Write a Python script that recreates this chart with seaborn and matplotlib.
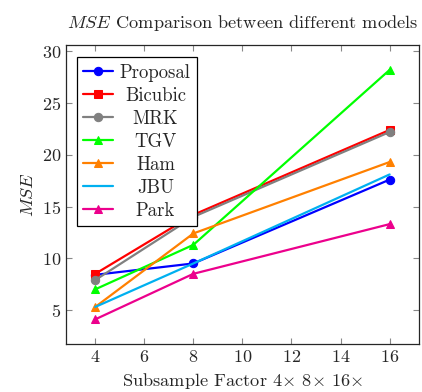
import matplotlib
matplotlib.use("Agg")
import matplotlib.pyplot as plt
import seaborn as sns
import pandas as pd

factors = [4, 8, 16]
proposal = [8.4, 9.5, 17.6]
bicubic = [8.5, 14.2, 22.4]
mrk = [7.9, 14.0, 22.2]
tgv = [7.0, 11.3, 28.2]
ham = [5.3, 12.4, 19.3]
jbu = [5.3, 9.5, 18.1]
park = [4.1, 8.5, 13.3]

names = ["Proposal", "Bicubic", "MRK", "TGV", "Ham", "JBU", "Park"]
values = [proposal, bicubic, mrk, tgv, ham, jbu, park]
colors = ["#0000ff", "#ff0000", "#808080", "#00ff00", "#ff8000", "#00b0f0", "#ec008c"]
markers = ["o", "s", "o", "^", "^", None, "^"]

sns.set_style("ticks")
plt.rcParams["font.family"] = "serif"
plt.rcParams["font.serif"] = ["cmr10", "DejaVu Serif"]
plt.rcParams["mathtext.fontset"] = "cm"
plt.rcParams["axes.formatter.use_mathtext"] = True

fig = plt.figure(figsize=(4.22, 3.92), dpi=100)
ax = fig.add_axes([0.156, 0.122, 0.837, 0.763])

for name, vals, c, m in zip(names, values, colors, markers):
    df = pd.DataFrame({"x": factors, "y": vals})
    sns.lineplot(data=df, x="x", y="y", ax=ax, color=c, marker=m, markersize=6,
                 markeredgecolor=c, linewidth=1.6, label=name)

ax.set_xlim(2.8, 17.2)
ax.set_ylim(1.7, 30.6)
ax.set_xticks([4, 6, 8, 10, 12, 14, 16])
ax.set_yticks([5, 10, 15, 20, 25, 30])
ax.tick_params(direction="in", top=True, right=True, length=4, color="#888888",
               labelsize=13)
for s in ax.spines.values():
    s.set_linewidth(0.9)
ax.set_xlabel(r"Subsample Factor 4$\times$ 8$\times$ 16$\times$", fontsize=13.2)
ax.set_ylabel(r"$MSE$", fontsize=13.2)
ax.set_title(r"$MSE$ Comparison between different models", fontsize=13.2, pad=12)

leg = ax.legend(loc="upper left", fontsize=13.5, frameon=True, fancybox=False,
                edgecolor="black", framealpha=1, handlelength=1.6,
                borderpad=0.35, labelspacing=0.27, handletextpad=0.35,
                borderaxespad=0, bbox_to_anchor=(0.031, 0.96))
leg.get_frame().set_linewidth(0.9)

# center legend labels like pgfplots
fig.canvas.draw()
renderer = fig.canvas.get_renderer()
texts = leg.get_texts()
widths = [t.get_window_extent(renderer).width for t in texts]
wmax = max(widths)
for t, w in zip(texts, widths):
    t.set_x((wmax - w) / 2)

fig.savefig("out.png", dpi=100)
